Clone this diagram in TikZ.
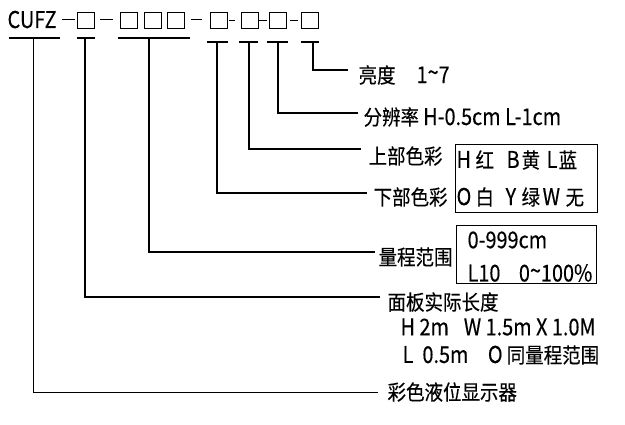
\documentclass[tikz,border=0pt]{standalone}
\usepackage{fontspec}
\newfontfamily\cjk[FakeStretch=0.88,FakeBold=0.3]{Noto Sans CJK SC}
\newfontfamily\latf[FakeStretch=0.86,FakeBold=0.3,Scale=1.1]{Noto Sans CJK SC}
\newcommand\lt[1]{{\latf #1}}
\newcommand\cell[2]{\makebox[#1pt][l]{#2}}
\begin{document}
\begin{tikzpicture}[x=1pt,y=-1pt,line width=1.2pt,
  lbl/.style={font=\cjk\fontsize{21}{23}\selectfont,inner sep=0pt,anchor=west},
  sq/.style={draw,line width=1pt,minimum width=17pt,minimum height=16pt,inner sep=0pt},
  conn/.style={line width=1.3pt},
  uline/.style={line width=1.3pt},
  frame/.style={draw,line width=1.3pt,inner sep=0pt}]
\useasboundingbox (0,0) rectangle (625,425);
% code string
\node[inner sep=0pt,anchor=base west,font=\cjk\fontsize{21}{23}\selectfont] (cufz) at (7,28) {\lt{CUFZ}};
\node[sq] (b1) at (86,21) {};
\node[sq] (g1) at (129,21) {};
\node[sq] (g2) at (152.5,21) {};
\node[sq] (g3) at (175.5,21) {};
\node[sq] (b2) at (218.5,21) {};
\node[sq] (b3) at (249.5,21) {};
\node[sq] (b4) at (278,21) {};
\node[sq] (b5) at (309.5,21) {};
\draw[line width=1pt] (62,20) -- (75,20);
\draw[line width=1pt] (100,20) -- (113,20);
\draw[line width=1pt] (191,20) -- (202,20);
\draw[line width=1pt] (229,21) -- (235,21);
\draw[line width=1pt] (259,21) -- (267,21);
\draw[line width=1pt] (290,21) -- (298,21);
% underlines
\draw[uline] (9,38) -- (60,38);
\draw[uline] (77,38) -- (95,38);
\draw[uline] (118,38) -- (190,38);
\draw[uline] (207,42) -- (228,42);
\draw[uline] (239,42) -- (258,42);
\draw[uline] (267,42) -- (288,42);
\draw[uline] (301,42) -- (319,42);
\coordinate (u0) at (33,38);
\coordinate (u1) at (85,38);
\coordinate (ug) at (149,38);
\coordinate (u2) at (217,42);
\coordinate (u3) at (249,42);
\coordinate (u4) at (278,42);
\coordinate (u5) at (313,42);
% line ends
\coordinate (e5) at (348,70);
\coordinate (e4) at (358,113);
\coordinate (e3) at (361,149);
\coordinate (e2) at (367,193);
\coordinate (eg) at (375,252);
\coordinate (e1) at (380,297);
\coordinate (e0) at (378,393);
% labels
\node[lbl] (t5) at (358,75) {亮度\hspace{1em}\lt{1\raisebox{0.1em}{\textasciitilde}7}};
\node[lbl] (t4) at (363,117) {分辨率 \lt{H-0.5cm L-1cm}};
\node[lbl] (t3) at (368,156) {上部色彩};
\node[lbl] (t2) at (373,197) {下部色彩};
\node[lbl] (tg) at (378,257) {量程范围};
\node[lbl] (t1) at (387,302) {面板实际长度};
\node[lbl] (t1a) at (400,327) {\lt{H 2m\hspace{0.45em} W 1.5m X 1.0M}};
\node[lbl] (t1b) at (402,355) {\lt{L\hspace{0.2em} 0.5m\hspace{0.65em} O} 同量程范围};
\node[lbl] (t0) at (387,392) {彩色液位显示器};
% colour table
\node[frame,minimum width=142pt,minimum height=68pt,anchor=north west] (ctab) at (455,144) {};
\node[lbl] (c1) at (456,160) {\cell{19}{\lt{H}}\cell{31}{红}\cell{15}{\lt{B}}\cell{25}{黄}\cell{12}{\lt{L}}蓝};
\node[lbl] (c2) at (456,197) {\cell{19}{\lt{O}}\cell{30}{白}\cell{16}{\lt{Y}}\cell{21}{绿}\cell{23}{\lt{W}}无};
% range table
\node[frame,minimum width=140pt,minimum height=58pt,anchor=north west] (rtab) at (456,225) {};
\node[lbl] (r1) at (467,240) {\lt{0-999cm}};
\node[lbl] (r2) at (467,273) {\lt{L10\hspace{0.8em}0\raisebox{0.1em}{\textasciitilde}100\%}};
% connectors
\draw[conn] (u5) |- (e5);
\draw[conn] (u4) |- (e4);
\draw[conn] (u3) |- (e3);
\draw[conn] (u2) |- (e2);
\draw[conn] (ug) |- (eg);
\draw[line width=2.2pt] (u1) |- (e1);
\draw[line width=1pt] (u0) |- (e0);
\end{tikzpicture}
\end{document}
